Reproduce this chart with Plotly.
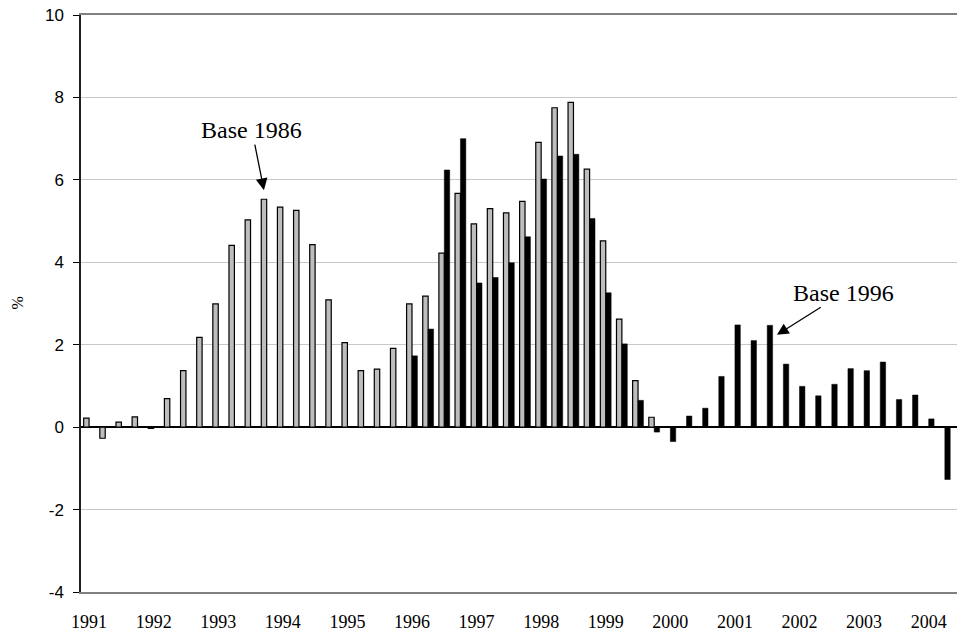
import plotly.graph_objects as go

# Quarterly periods
years = list(range(1991, 2005))
quarters = [f"{y}Q{q}" for y in years for q in (1, 2, 3, 4)]

# Base 1986 series: 1991Q1 - 1999Q4
base1986_periods = [f"{y}Q{q}" for y in range(1991, 2000) for q in (1, 2, 3, 4)]
base1986_values = [
    0.22, -0.27, 0.12, 0.25,
    -0.03, 0.69, 1.37, 2.18,
    2.99, 4.41, 5.03, 5.53,
    5.34, 5.26, 4.43, 3.09,
    2.05, 1.37, 1.41, 1.91,
    2.99, 3.18, 4.22, 5.67,
    4.93, 5.30, 5.20, 5.48,
    6.91, 7.75, 7.88, 6.26,
    4.52, 2.62, 1.13, 0.24,
]

# Base 1996 series: 1996Q1 - 2004Q3
base1996_periods = [f"{y}Q{q}" for y in range(1996, 2005) for q in (1, 2, 3, 4)][:35]
base1996_values = [
    1.73, 2.38, 6.24, 7.00,
    3.50, 3.63, 3.99, 4.62,
    6.02, 6.58, 6.62, 5.06,
    3.26, 2.02, 0.65, -0.12,
    -0.35, 0.27, 0.46, 1.23,
    2.48, 2.10, 2.47, 1.53,
    0.99, 0.76, 1.04, 1.42,
    1.37, 1.58, 0.67, 0.78,
    0.20, -1.27, -2.03,
]

year_ticks = [f"{y}Q1" for y in years]
year_labels = [str(y) for y in years]
y_tick_values = [-4, -2, 0, 2, 4, 6, 8, 10]
y_tick_labels = ["-4", "-2", "0", "2", "4", "6", "8", "10"]

fig = go.Figure()
fig.add_trace(go.Bar(
    x=base1986_periods, y=base1986_values, name="Base 1986",
    marker=dict(color="#bdbdbd", line=dict(color="black", width=1.2)),
))
fig.add_trace(go.Bar(
    x=base1996_periods, y=base1996_values, name="Base 1996",
    marker=dict(color="black", line=dict(color="black", width=0.5)),
))

serif = "Liberation Serif, Times New Roman, serif"
sans = "Liberation Sans, Arial, sans-serif"

# page body adds an 8px offset; figure is sized so it fills the 965x637 window
fig.update_layout(
    width=957, height=629,
    margin=dict(l=73, r=0, t=7, b=45, autoexpand=False),
    paper_bgcolor="white", plot_bgcolor="white",
    barmode="group", bargap=0.33, bargroupgap=0,
    showlegend=False,
    xaxis=dict(
        type="category", categoryorder="array", categoryarray=quarters,
        range=[-0.5, 54.25],
        tickmode="array", tickvals=year_ticks, ticktext=year_labels,
        ticks="outside", ticklen=0, ticklabelstandoff=12,
        ticklabeloverflow="allow",
        tickfont=dict(family=serif, size=18, color="black"),
        showline=True, linecolor="#808080", linewidth=2, mirror=True,
        showgrid=False, zeroline=False,
    ),
    yaxis=dict(
        range=[-4, 10],
        tickmode="array", tickvals=y_tick_values, ticktext=y_tick_labels,
        ticks="outside", ticklen=6, tickcolor="black", tickwidth=1,
        ticklabelstandoff=6, ticklabeloverflow="allow",
        tickfont=dict(family=sans, size=17, color="black"),
        showline=True, linecolor="#202020", linewidth=1.5,
        showgrid=True, gridcolor="#c8c8c8", gridwidth=1,
        zeroline=True, zerolinecolor="black", zerolinewidth=1.5,
    ),
)

i86 = quarters.index("1993Q4")
i96 = quarters.index("2001Q3")
v86 = base1986_values[base1986_periods.index("1993Q4")]
v96 = base1996_values[base1996_periods.index("2001Q3")]

fig.add_annotation(
    x=i86 - 0.17, y=v86 + 0.22, xref="x", yref="y",
    text="Base 1986", showarrow=True, arrowhead=2, arrowsize=1.8, arrowwidth=1.3,
    arrowcolor="black", ax=-12, ay=-60,
    font=dict(family=serif, size=24, color="black"),
)
fig.add_annotation(
    x=i96 + 0.6, y=v96 - 0.23, xref="x", yref="y",
    text="Base 1996", showarrow=True, arrowhead=2, arrowsize=1.8, arrowwidth=1.3,
    arrowcolor="black", ax=67, ay=-42,
    font=dict(family=serif, size=24, color="black"),
)
fig.add_annotation(
    x=(17 - 81) / 884, y=0.5, xref="paper", yref="paper",
    xanchor="center", yanchor="middle",
    text="%", textangle=-90, showarrow=False,
    font=dict(family=serif, size=16, color="black"),
)

fig.write_html("out.html")
